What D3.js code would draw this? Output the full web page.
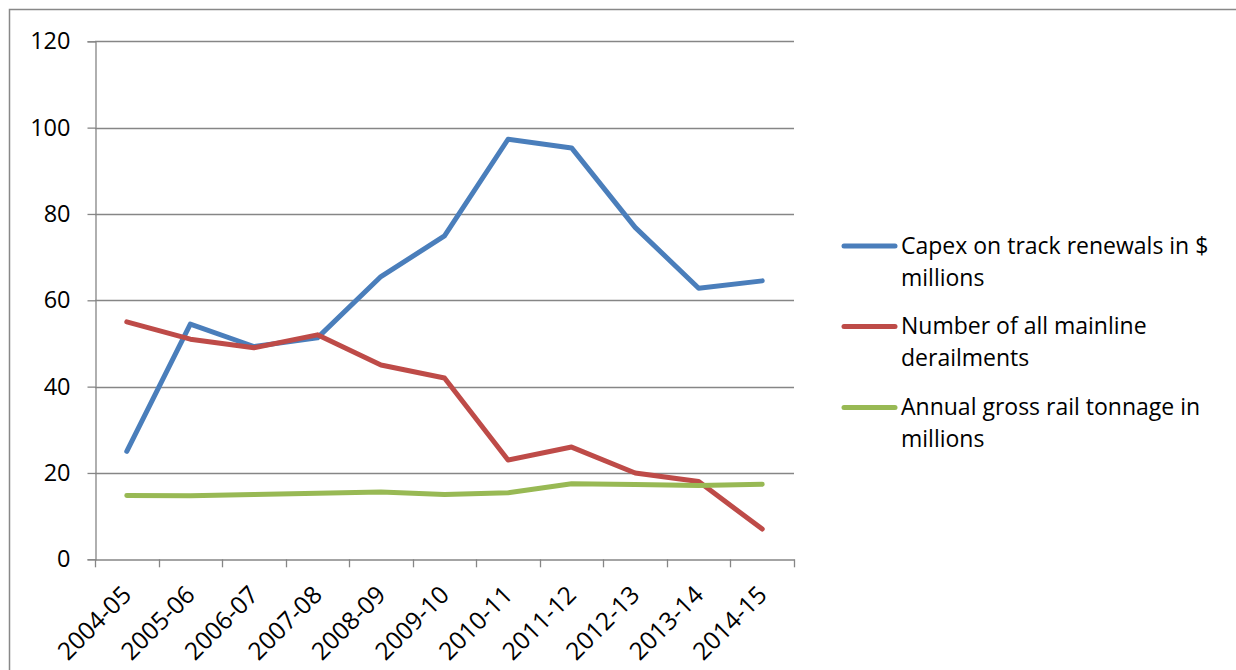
<!DOCTYPE html>
<html>
<head>
<meta charset="utf-8">
<script src="https://cdn.jsdelivr.net/npm/d3@7"></script>
<style>
  html, body { margin: 0; padding: 0; background: #fff; }
  svg { display: block; }
  text { font-family: "Open Sans", sans-serif; fill: #000; }
</style>
</head>
<body>
<svg id="chart" width="1236" height="670"></svg>
<script>
const categories = ["2004-05","2005-06","2006-07","2007-08","2008-09","2009-10","2010-11","2011-12","2012-13","2013-14","2014-15"];
const capex = [25, 54.5, 49.3, 51.3, 65.5, 74.9, 97.3, 95.3, 76.9, 62.8, 64.5];
const derailments = [55, 51, 49, 52, 45, 42, 23, 26, 20, 18, 7];
const tonnage = [14.8, 14.7, 15.0, 15.3, 15.6, 15.0, 15.4, 17.5, 17.3, 17.1, 17.4];
const yTicks = [0, 20, 40, 60, 80, 100, 120];
const seriesNames = ["Capex on track renewals in $|millions", "Number of all mainline|derailments", "Annual gross rail tonnage in|millions"];
const seriesColors = ["#4A7EBB", "#BE4B48", "#98B954"];

const series = [capex, derailments, tonnage].map((vals, i) => ({
  name: seriesNames[i], color: seriesColors[i],
  values: vals.map((v, j) => ({ cat: categories[j], v }))
}));

const svg = d3.select("#chart");

// outer border
svg.append("rect").attr("x", 9.5).attr("y", 9.5).attr("width", 1300).attr("height", 700)
  .attr("fill", "none").attr("stroke", "#888").attr("stroke-width", 1.5);

const pLeft = 95, pRight = 794, pTop = 41.3, pBottom = 559.3;
const x = d3.scaleBand().domain(categories).range([pLeft, pRight]);
const y = d3.scaleLinear().domain([0, 120]).range([pBottom, pTop]);

// gridlines
svg.append("g").selectAll("line").data(yTicks.filter(d => d > 0)).join("line")
  .attr("x1", pLeft).attr("x2", pRight)
  .attr("y1", d => Math.round(y(d)) + 0.5).attr("y2", d => Math.round(y(d)) + 0.5)
  .attr("stroke", "#868686").attr("stroke-width", 1.3);

// y axis
const yAxis = svg.append("g").attr("transform", `translate(${pLeft + 0.5},0)`)
  .call(d3.axisLeft(y).tickValues(yTicks).tickSize(8).tickPadding(17).tickFormat(d3.format("d")));
yAxis.select(".domain").attr("stroke", "#868686").attr("stroke-width", 1.3);
yAxis.selectAll(".tick line").attr("stroke", "#868686").attr("stroke-width", 1.3);
yAxis.selectAll(".tick text").style("font-size", "23.5px").style("font-family", "'Open Sans', sans-serif").attr("fill", "#000");

// x axis
const xAxis = svg.append("g").attr("transform", `translate(0,${Math.round(pBottom) + 0.5})`)
  .call(d3.axisBottom(x).tickSize(0).tickFormat(""));
xAxis.select(".domain").attr("stroke", "#868686").attr("stroke-width", 1.3);
const boundaries = categories.map(c => x(c)).concat([pRight]);
svg.append("g").selectAll("line").data(boundaries).join("line")
  .attr("x1", d => Math.round(d) + 0.5).attr("x2", d => Math.round(d) + 0.5)
  .attr("y1", pBottom).attr("y2", pBottom + 8)
  .attr("stroke", "#868686").attr("stroke-width", 1.3);

svg.append("g").selectAll("text").data(categories).join("text")
  .attr("transform", d => `translate(${x(d) + x.bandwidth() / 2 - 6},${pBottom + 25}) rotate(-45)`)
  .attr("text-anchor", "end").attr("dy", "0.7em")
  .style("font-size", "24.5px")
  .text(d => d);

// lines
const line = d3.line().x(d => x(d.cat) + x.bandwidth() / 2).y(d => y(d.v));
svg.append("g").selectAll("path").data(series).join("path")
  .attr("d", d => line(d.values))
  .attr("fill", "none").attr("stroke", d => d.color).attr("stroke-width", 5)
  .attr("stroke-linejoin", "round").attr("stroke-linecap", "round");

// legend
const legendY = [246, 326.5, 407.5];
const lg = svg.append("g").selectAll("g").data(series).join("g")
  .attr("transform", (d, i) => `translate(0,${legendY[i]})`);
lg.append("line").attr("x1", 844).attr("x2", 895).attr("y1", 0).attr("y2", 0)
  .attr("stroke", d => d.color).attr("stroke-width", 5).attr("stroke-linecap", "round");
lg.append("text").attr("x", 901).attr("y", 7.5).style("font-size", "23px")
  .selectAll("tspan").data(d => d.name.split("|")).join("tspan")
  .attr("x", 901).attr("dy", (d, i) => i === 0 ? 0 : 32).text(d => d);
</script>
</body>
</html>
